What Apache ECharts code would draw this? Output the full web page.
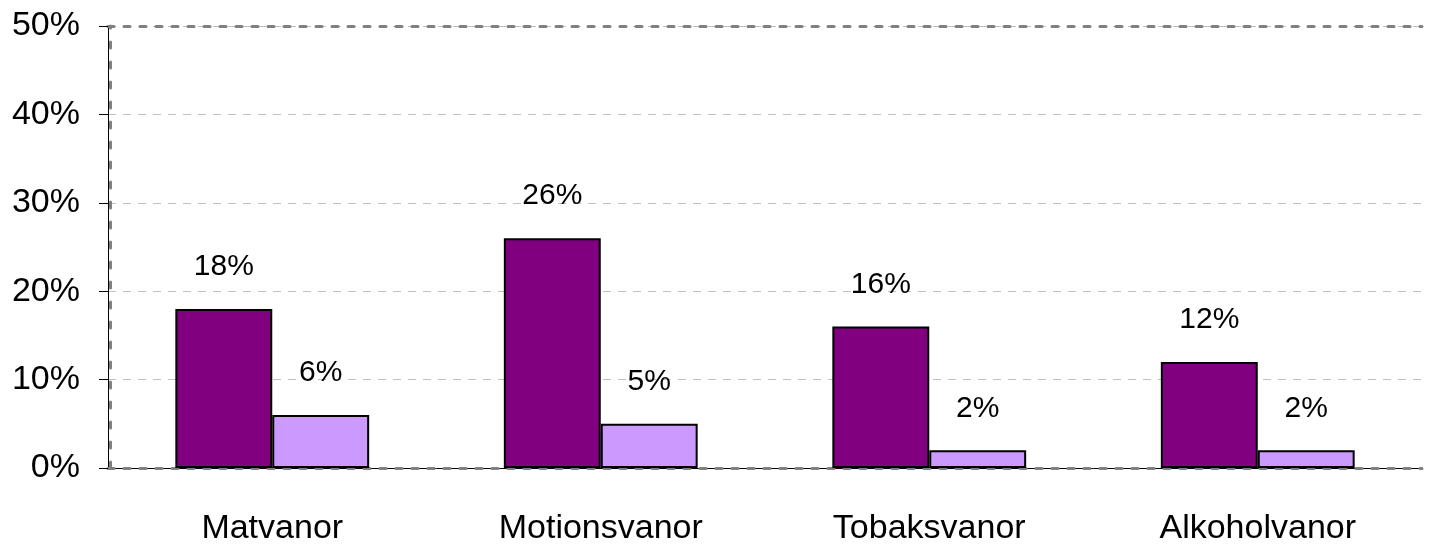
<!DOCTYPE html>
<html>
<head>
<meta charset="utf-8">
<script src="https://cdn.jsdelivr.net/npm/echarts@6/dist/echarts.min.js"></script>
<style>
  html, body { margin: 0; padding: 0; background: #fff; }
  #chart { width: 1429px; height: 546px; }
</style>
</head>
<body>
<div id="chart"></div>
<script>
// data
const categories = ['Matvanor', 'Motionsvanor', 'Tobaksvanor', 'Alkoholvanor'];
const darkValues = [18, 26, 16, 12];
const lightValues = [6, 5, 2, 2];

const font = '"Liberation Sans", Arial, sans-serif';

const chart = echarts.init(document.getElementById('chart'));

const barLabel = {
  show: true,
  position: 'top',
  distance: 27,
  color: '#000',
  fontFamily: font,
  fontSize: 30,
  formatter: p => p.value + '%'
};

chart.setOption({
  animation: false,
  grid: { left: 108, right: 7, top: 26, bottom: 78 },
  xAxis: [
    {
      type: 'category',
      data: categories,
      axisLine: { lineStyle: { color: '#000', width: 1 } },
      axisTick: { show: false },
      axisLabel: { color: '#000', fontFamily: font, fontSize: 34, margin: 44 }
    },
    {
      // dashed frame line along the bottom
      type: 'category',
      data: categories,
      position: 'bottom',
      offset: 2,
      axisLine: { lineStyle: { color: '#808080', width: 3, type: [6, 10] } },
      axisTick: { show: false },
      axisLabel: { show: false }
    },
    {
      // dashed frame line along the top
      type: 'category',
      data: categories,
      position: 'top',
      axisLine: { lineStyle: { color: '#808080', width: 3, type: [6, 10] } },
      axisTick: { show: false },
      axisLabel: { show: false }
    }
  ],
  yAxis: [
    {
      type: 'value',
      min: 0,
      max: 50,
      interval: 10,
      axisLine: { show: true, lineStyle: { color: '#000', width: 1 } },
      axisTick: { show: true, length: 9, lineStyle: { color: '#000' } },
      axisLabel: { color: '#000', fontFamily: font, fontSize: 34, margin: 28, formatter: '{value}%' },
      splitLine: { lineStyle: { color: '#c0c0c0', width: 1, type: [8, 7] } }
    },
    {
      // dashed frame line along the left
      type: 'value',
      min: 0,
      max: 50,
      position: 'left',
      offset: -2,
      axisLine: { show: true, lineStyle: { color: '#808080', width: 3, type: [6, 14] } },
      axisTick: { show: false },
      axisLabel: { show: false },
      splitLine: { show: false }
    }
  ],
  series: [
    {
      name: 'dark',
      type: 'bar',
      data: darkValues,
      barGap: '0%',
      barCategoryGap: '41%',
      itemStyle: { color: '#800080', borderColor: '#000', borderWidth: 2 },
      label: barLabel
    },
    {
      name: 'light',
      type: 'bar',
      data: lightValues,
      itemStyle: { color: '#cc99ff', borderColor: '#000', borderWidth: 2 },
      label: barLabel
    }
  ]
});
</script>
</body>
</html>
